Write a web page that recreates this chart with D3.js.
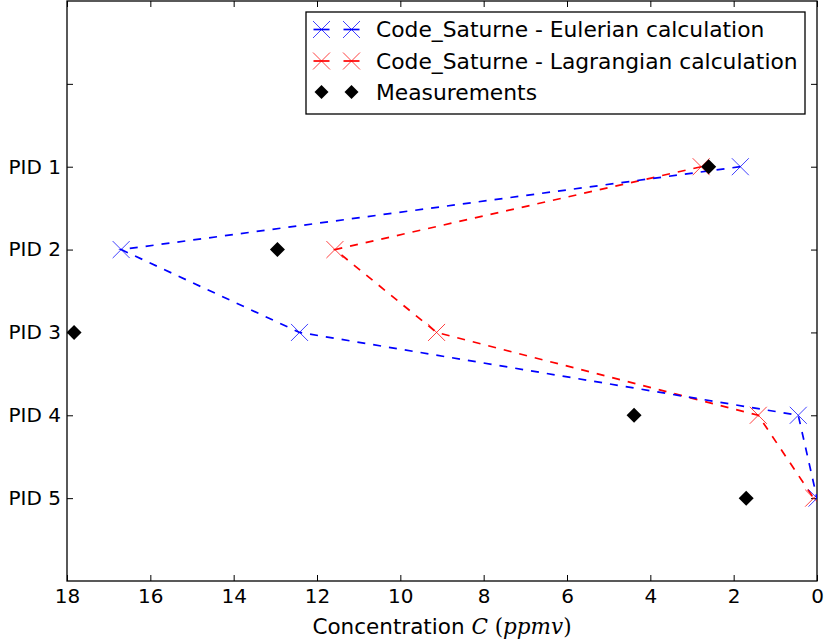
<!DOCTYPE html>
<html><head><meta charset="utf-8">
<script src="https://cdn.jsdelivr.net/npm/d3@7"></script>
<style>body{margin:0;background:#fff}svg{display:block}text{font-family:"DejaVu Sans",sans-serif;fill:#000}</style>
</head><body><svg id="c" width="824" height="644"></svg>
<script>
const categories = ["PID 1","PID 2","PID 3","PID 4","PID 5"];
const eulerian = [1.84, 16.70, 12.42, 0.45, 0.0];
const lagrangian = [2.78, 11.57, 9.13, 1.41, 0.08];
const measurements = [2.60, 12.95, 17.83, 4.39, 1.70];
const xTicks = [18,16,14,12,10,8,6,4,2,0];
const yTickPos = [1,2,3,4,5,6];
const yTickLabels = ["","PID 1","PID 2","PID 3","PID 4","PID 5"];
const legendLabels = ["Code_Saturne - Eulerian calculation","Code_Saturne - Lagrangian calculation","Measurements"];

const svg = d3.select("#c");
const L=67,R=817,T=1,B=581;
const x = d3.scaleLinear().domain([18,0]).range([L,R]);
const y = d3.scaleLinear().domain([0,7]).range([T,B]);

svg.append("defs").append("clipPath").attr("id","clip").append("rect")
  .attr("x",L).attr("y",T).attr("width",R-L).attr("height",B-T);

const fs = 20;
const xb = svg.append("g").attr("transform",`translate(0,${B})`)
  .call(d3.axisBottom(x).tickValues(xTicks).tickSizeInner(-6).tickSizeOuter(0).tickPadding(9).tickFormat(d3.format("d")));
const xt = svg.append("g").attr("transform",`translate(0,${T})`)
  .call(d3.axisTop(x).tickValues(xTicks).tickSizeInner(-6).tickSizeOuter(0).tickFormat(""));
const yl = svg.append("g").attr("transform",`translate(${L},0)`)
  .call(d3.axisLeft(y).tickValues(yTickPos).tickSizeInner(-6).tickSizeOuter(0).tickPadding(6).tickFormat((d,i)=>yTickLabels[i]));
const yr = svg.append("g").attr("transform",`translate(${R},0)`)
  .call(d3.axisRight(y).tickValues(yTickPos).tickSizeInner(-6).tickSizeOuter(0).tickFormat(""));
[xb,xt,yl,yr].forEach(g=>{
  g.select(".domain").remove();
  g.selectAll("line").attr("stroke","#000").attr("stroke-width",1);
  g.selectAll("text").style("font-size",fs+"px").style("font-family","DejaVu Sans");
});
xb.selectAll("text").attr("dy","0.66em");
svg.append("rect").attr("x",L).attr("y",T).attr("width",R-L).attr("height",B-T)
  .attr("fill","none").attr("stroke","#000").attr("stroke-width",1.3);

const xl = svg.append("text").attr("x",(L+R)/2).attr("y",634).attr("text-anchor","middle").style("font-size","21.5px");
xl.append("tspan").text("Concentration ");
xl.append("tspan").text("C").style("font-family","DejaVu Serif").style("font-style","italic");
xl.append("tspan").text(" (").style("font-family","DejaVu Serif");
xl.append("tspan").text("ppmv").style("font-family","DejaVu Serif").style("font-style","italic");
xl.append("tspan").text(")").style("font-family","DejaVu Serif");

const plot = svg.append("g").attr("clip-path","url(#clip)");
const line = d3.line().x(d=>x(d[0])).y(d=>y(d[1]));
function series(vals,color){
  const pts = vals.map((v,i)=>[v,i+2]);
  plot.append("path").attr("d",line(pts)).attr("fill","none").attr("stroke",color)
    .attr("stroke-width",1.7).attr("stroke-dasharray","8,8");
  const s=8.5;
  plot.selectAll(null).data(pts).enter().append("path")
    .attr("d",d=>{const cx=x(d[0]),cy=y(d[1]);return `M${cx-s},${cy-s}L${cx+s},${cy+s}M${cx-s},${cy+s}L${cx+s},${cy-s}`;})
    .attr("stroke",color).attr("stroke-width",1).attr("stroke-opacity",0.75).attr("fill","none");
}
series(lagrangian,"#ff0000");
series(eulerian,"#0000ff");
const dsz=7.5;
plot.selectAll(null).data(measurements.map((v,i)=>[v,i+2])).enter().append("path")
  .attr("d",d=>{const cx=x(d[0]),cy=y(d[1]);return `M${cx},${cy-dsz}L${cx+dsz},${cy}L${cx},${cy+dsz}L${cx-dsz},${cy}Z`;})
  .attr("fill","#000");

const lg = svg.append("g");
lg.append("rect").attr("x",306).attr("y",12).attr("width",499).attr("height",102)
  .attr("fill","#fff").attr("stroke","#000").attr("stroke-width",1.3);
const rows=[29.5,61,92];
const colors=["#0000ff","#ff0000","#000"];
legendLabels.forEach((lab,i)=>{
  const cy=rows[i];
  [321.5,351.5].forEach(cx=>{
    if(i<2){
      const s=8.5;
      lg.append("path").attr("d",`M${cx-s},${cy-s}L${cx+s},${cy+s}M${cx-s},${cy+s}L${cx+s},${cy-s}`)
        .attr("stroke",colors[i]).attr("stroke-width",1).attr("stroke-opacity",0.75).attr("fill","none");
      lg.append("line").attr("x1",cx-8).attr("x2",cx+8).attr("y1",cy).attr("y2",cy)
        .attr("stroke",colors[i]).attr("stroke-width",1.7);
    } else {
      lg.append("path").attr("d",`M${cx},${cy-7}L${cx+7},${cy}L${cx},${cy+7}L${cx-7},${cy}Z`).attr("fill","#000");
    }
  });
  lg.append("text").attr("x",376).attr("y",cy).attr("dy","0.35em").style("font-size","21.8px").text(lab);
});
</script></body></html>
